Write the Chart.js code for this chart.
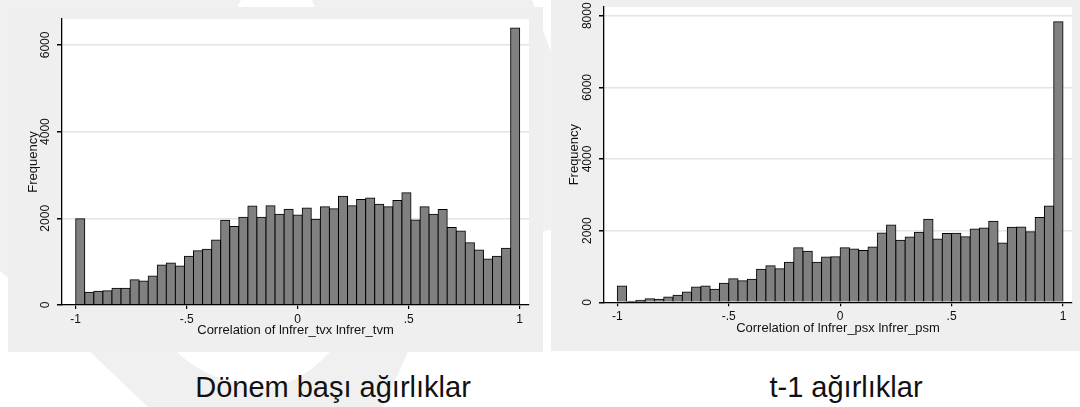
<!DOCTYPE html>
<html>
<head>
<meta charset="utf-8">
<script src="https://cdn.jsdelivr.net/npm/chart.js@4.4.1/dist/chart.umd.min.js"></script>
<style>
html,body{margin:0;padding:0;background:#fff;}
body{width:1080px;height:407px;position:relative;overflow:hidden;font-family:"Liberation Sans",Arial,sans-serif;}
#wm{position:absolute;left:0;top:0;}
canvas{position:absolute;}
#c1{left:8px;top:7px;}
#c2{left:551px;top:0px;}
.cap{position:absolute;top:372.5px;font-size:29px;line-height:29px;color:#111;white-space:nowrap;transform:translateX(-50%);}
</style>
</head>
<body>
<svg id="wm" width="1080" height="407">
<path fill="#f0f0f0" fill-rule="evenodd" d="M -300 0 L 532 0 L 572 110 L 580 170 L 560 228 L 540 232 L 470 300 L 408 352 L 383 407 L 148 407 L 90 352 Z M 241 0 L 312 0 C 360 120 370 280 330 352 Q 290 395 245 386 Q 200 375 177 352 C 150 260 190 100 241 0 Z"/>
</svg>
<canvas id="c1" width="535" height="345"></canvas>
<canvas id="c2" width="529" height="351"></canvas>
<div class="cap" id="cap1" style="left:333px;"></div>
<div class="cap" id="cap2" style="left:846px;"></div>
<script>
// ---- data ----
const leftCounts = [1990, 292, 315, 331, 385, 385, 585, 554, 669, 923, 969, 900, 1123, 1254, 1285, 1500, 1954, 1808, 2023, 2285, 2023, 2292, 2092, 2208, 2077, 2238, 1977, 2269, 2223, 2508, 2292, 2431, 2469, 2323, 2269, 2408, 2592, 1962, 2269, 2092, 2200, 1785, 1708, 1438, 1269, 1062, 1123, 1308, 6390];
const rightCounts = [456, 28, 56, 102, 84, 149, 195, 288, 428, 456, 363, 530, 660, 605, 642, 921, 1023, 940, 1116, 1526, 1423, 1116, 1265, 1274, 1520, 1491, 1444, 1546, 1935, 2157, 1731, 1824, 1954, 2315, 1768, 1917, 1926, 1833, 2046, 2074, 2259, 1657, 2093, 2102, 1972, 2370, 2685, 7830];
const binRange = [-1, 1];
const xTickValues = [-1, -0.5, 0, 0.5, 1];
const xTickLabels = ['-1', '-.5', '0', '.5', '1'];
const leftYTicks = [0, 2000, 4000, 6000];
const rightYTicks = [0, 2000, 4000, 6000, 8000];
const leftXTitle = 'Correlation of lnfrer_tvx lnfrer_tvm';
const rightXTitle = 'Correlation of lnfrer_psx lnfrer_psm';
const yTitle = 'Frequency';
const captions = ['Dönem başı ağırlıklar', 't-1 ağırlıklar'];

document.getElementById('cap1').textContent = captions[0];
document.getElementById('cap2').textContent = captions[1];

const FONT = "'Liberation Sans', Arial, sans-serif";

function makeChart(id, counts, yTicks, xTitle, g) {
  const n = counts.length;
  const bw = (binRange[1] - binRange[0]) / n;
  const data = counts.map((v, i) => ({x: binRange[0] + (i + 0.5) * bw, y: v}));
  const bg = {
    id: 'bg',
    beforeDraw(c) {
      const ctx = c.ctx, a = c.chartArea;
      ctx.save();
      ctx.fillStyle = '#efefef';
      ctx.fillRect(0, 0, c.width, c.height);
      ctx.fillStyle = '#ffffff';
      ctx.fillRect(a.left, a.top, a.right - a.left, a.bottom - a.top);
      ctx.restore();
    }
  };
  return new Chart(document.getElementById(id), {
    type: 'bar',
    data: {datasets: [{
      data: data,
      backgroundColor: '#808080',
      borderColor: '#000000',
      borderWidth: 1,
      borderSkipped: 'start',
      inflateAmount: 0.5,
      barPercentage: 1,
      categoryPercentage: 1,
      grouped: false
    }]},
    options: {
      responsive: false,
      animation: false,
      devicePixelRatio: 1,
      layout: {padding: {left: 0, top: g.plotT, right: g.w - g.plotR, bottom: 0}},
      plugins: {legend: {display: false}, tooltip: {enabled: false}},
      scales: {
        x: {
          type: 'linear', min: g.xMin, max: g.xMax, offset: false,
          grid: {display: true, drawOnChartArea: false, offset: false, tickLength: 4, color: '#000', lineWidth: 1.2},
          border: {display: true, color: '#000', width: 1.3, z: 1},
          afterBuildTicks(s) { s.ticks = xTickValues.map(v => ({value: v})); },
          ticks: {autoSkip: false, minRotation: 0, maxRotation: 0, padding: 3, color: '#111',
                  font: {family: FONT, size: 12},
                  callback: (v) => { const k = xTickValues.indexOf(v); return k >= 0 ? xTickLabels[k] : ''; }},
          title: {display: true, text: xTitle, color: '#111', font: {family: FONT, size: 13},
                  padding: {top: 0, bottom: g.xTitlePad}},
          afterFit(s) { s.height = g.h - g.plotB; }
        },
        y: {
          type: 'linear', min: 0, max: g.yMax,
          grid: {color: '#e4e4e4', lineWidth: 1.5, tickColor: '#000', tickLength: 5},
          border: {display: true, color: '#000', width: 1.3, z: 1},
          afterBuildTicks(s) { s.ticks = yTicks.map(v => ({value: v})); },
          ticks: {minRotation: 90, maxRotation: 90, crossAlign: 'center', padding: -2, color: '#111',
                  font: {family: FONT, size: 12}, callback: (v) => String(v)},
          title: {display: true, text: yTitle, color: '#111', font: {family: FONT, size: 13},
                  padding: {top: g.yTitlePad, bottom: 0}},
          afterFit(s) { s.width = g.plotL; }
        }
      }
    },
    plugins: [bg]
  });
}

makeChart('c1', leftCounts, leftYTicks, leftXTitle, {
  w: 535, h: 345, plotL: 54, plotT: 12, plotR: 521, plotB: 298,
  xMin: -1.0617, xMax: 1.0419, yMax: 6597, xTitlePad: 14.2, yTitlePad: 17.2
});
makeChart('c2', rightCounts, rightYTicks, rightXTitle, {
  w: 529, h: 351, plotL: 53, plotT: 7, plotR: 521, plotB: 302.3,
  xMin: -1.0597, xMax: 1.0404, yMax: 8243, xTitlePad: 15.2, yTitlePad: 15.7
});
</script>
</body>
</html>
